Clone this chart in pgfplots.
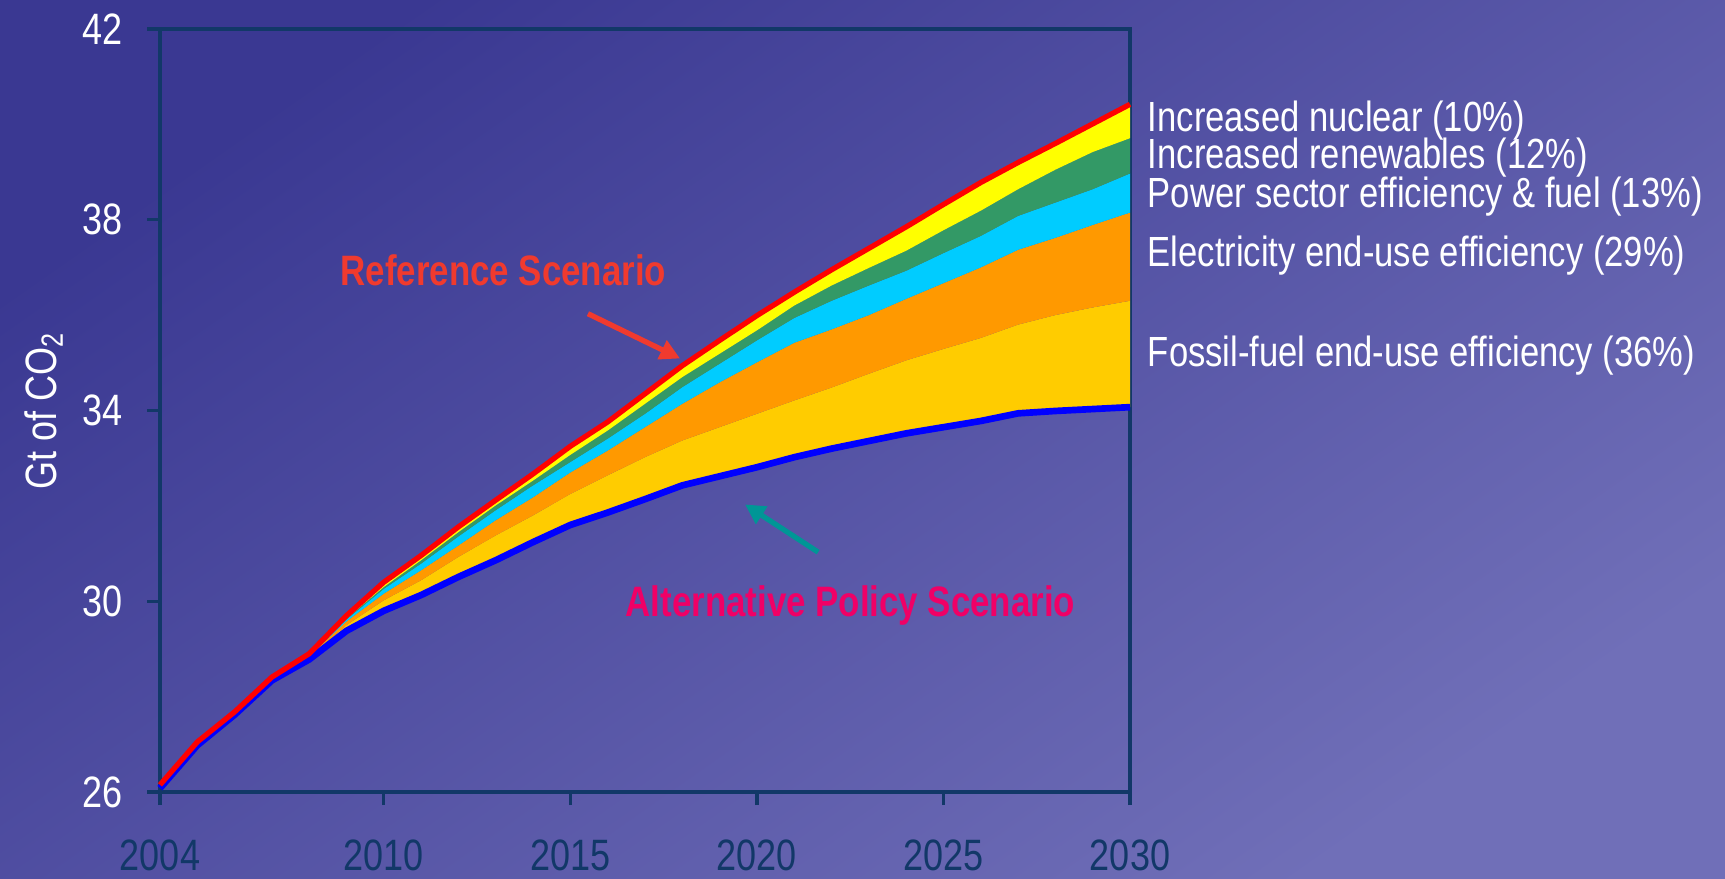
\documentclass[border=0pt]{standalone}
\usepackage{fontspec}
\setmainfont{Liberation Sans}
\newfontfamily\nar[FakeStretch=0.82]{Liberation Sans}
\usepackage{pgfplots}
\pgfplotsset{compat=1.18}
\usepackage{pgfplotstable}
\usepgfplotslibrary{fillbetween}
\usetikzlibrary{arrows.meta}
\definecolor{bgA}{RGB}{58,56,146}
\definecolor{bgB}{RGB}{112,111,184}
\definecolor{axc}{RGB}{18,56,104}
\definecolor{cYel}{RGB}{255,255,0}
\definecolor{cGrn}{RGB}{51,153,102}
\definecolor{cCya}{RGB}{0,204,255}
\definecolor{cOra}{RGB}{255,153,0}
\definecolor{cGld}{RGB}{255,204,0}
\definecolor{refred}{RGB}{240,58,46}
\definecolor{altpink}{RGB}{240,0,102}
\definecolor{tealc}{RGB}{0,150,150}

\pgfplotstableread{
year alt gold orange cyan green ref
2004 26.08 26.08 26.08 26.08 26.08 26.15
2005 26.98 26.98 26.98 26.98 26.98 27.05
2006 27.62 27.62 27.62 27.62 27.62 27.68
2007 28.34 28.34 28.34 28.34 28.34 28.41
2008 28.78 28.82 28.85 28.87 28.88 28.90
2009 29.38 29.50 29.58 29.62 29.64 29.70
2010 29.80 30.02 30.16 30.26 30.30 30.40
2011 30.13 30.44 30.65 30.79 30.86 30.96
2012 30.51 30.93 31.17 31.36 31.45 31.56
2013 30.86 31.38 31.70 31.91 32.01 32.12
2014 31.24 31.80 32.18 32.43 32.53 32.67
2015 31.60 32.25 32.70 32.92 33.07 33.25
2016 31.86 32.64 33.16 33.41 33.58 33.76
2017 32.14 33.02 33.65 33.93 34.14 34.35
2018 32.43 33.37 34.14 34.49 34.70 34.94
2019 32.62 33.65 34.59 34.98 35.19 35.47
2020 32.81 33.93 35.01 35.47 35.68 35.99
2021 33.02 34.21 35.42 35.94 36.20 36.48
2022 33.20 34.48 35.70 36.30 36.62 36.95
2023 33.36 34.77 36.00 36.62 36.99 37.40
2024 33.52 35.05 36.34 36.93 37.35 37.85
2025 33.65 35.29 36.67 37.30 37.78 38.32
2026 33.78 35.52 37.00 37.66 38.19 38.78
2027 33.94 35.80 37.37 38.08 38.64 39.20
2028 33.99 36.00 37.62 38.36 39.05 39.60
2029 34.03 36.16 37.89 38.64 39.42 40.01
2030 34.07 36.30 38.15 38.97 39.71 40.42
}\data

\begin{document}
\begin{tikzpicture}
\begin{axis}[
  set layers,
  at={(0,0)}, anchor=south west,
  scale only axis, width=9.7cm, height=7.63cm,
  xmin=2004, xmax=2030, ymin=26, ymax=42,
  xtick={2004,2010,2015,2020,2025,2030},
  ytick={26,30,34,38,42},
  clip=false,
  axis line style={axc, line width=0.9pt},
  every tick/.style={axc, line width=0.9pt},
  major tick length=0.13cm,
  tick align=outside,
  xtick pos=bottom, ytick pos=left,
  /pgf/number format/assume math mode=true,
  /pgf/number format/1000 sep={},
  xticklabel style={font=\nar\fontsize{12.5}{14}\selectfont, text=axc, inner sep=0pt, yshift=-0.345cm},
  yticklabel style={font=\nar\fontsize{12.5}{14}\selectfont, text=white, inner sep=0pt, xshift=-0.235cm},
  ylabel={Gt of CO\textsubscript{2}},
  ylabel style={font=\nar\fontsize{12.5}{14}\selectfont, text=white, at={(axis description cs:-0.12,0.5)}, anchor=center},
]
\begin{pgfonlayer}{axis background}
\shade[top color=bgA, bottom color=bgB, shading angle=35] (rel axis cs:-0.16495,-0.11402) rectangle (rel axis cs:1.61340,1.03801);
\end{pgfonlayer}
\addplot[name path=alt, draw=none, forget plot] table[x=year,y=alt]{\data};
\addplot[name path=gold, draw=none, forget plot] table[x=year,y=gold]{\data};
\addplot[name path=orange, draw=none, forget plot] table[x=year,y=orange]{\data};
\addplot[name path=cyan, draw=none, forget plot] table[x=year,y=cyan]{\data};
\addplot[name path=green, draw=none, forget plot] table[x=year,y=green]{\data};
\addplot[name path=ref, draw=none, forget plot] table[x=year,y=ref]{\data};
\addplot[cGld, draw=none] fill between[of=gold and alt];
\addplot[cOra, draw=none] fill between[of=orange and gold];
\addplot[cCya, draw=none] fill between[of=cyan and orange];
\addplot[cGrn, draw=none] fill between[of=green and cyan];
\addplot[cYel, draw=none] fill between[of=ref and green];
\addplot[blue, line width=1.9pt] table[x=year,y=alt]{\data};
\addplot[red, line width=1.5pt] table[x=year,y=ref]{\data};

\draw[refred, line width=1.5pt, -{Triangle[length=0.2cm, width=0.2cm]}] (axis cs:2015.47,36.03) -- (axis cs:2017.94,35.09);
\draw[tealc, line width=1.5pt, -{Triangle[length=0.2cm, width=0.2cm]}] (axis cs:2021.64,31.03) -- (axis cs:2019.68,32.03);

\node[anchor=base west, font=\nar\bfseries\fontsize{12.1}{14}\selectfont, text=refred, inner sep=0pt] at (axis cs:2008.82,36.62) {Reference Scenario};
\node[anchor=base west, font=\nar\bfseries\fontsize{12.1}{14}\selectfont, text=altpink, inner sep=0pt] at (axis cs:2016.46,29.68) {Alternative Policy Scenario};

\begin{scope}[every node/.style={anchor=base west, font=\nar\fontsize{12}{14}\selectfont, text=white, inner sep=0pt}]
\node at (axis cs:2030.46,39.86) {Increased nuclear (10\%)};
\node at (axis cs:2030.46,39.07) {Increased renewables (12\%)};
\node at (axis cs:2030.46,38.25) {Power sector efficiency \& fuel (13\%)};
\node at (axis cs:2030.46,37.02) {Electricity end-use efficiency (29\%)};
\node at (axis cs:2030.46,34.92) {Fossil-fuel end-use efficiency (36\%)};
\end{scope}
\end{axis}
\end{tikzpicture}
\end{document}
